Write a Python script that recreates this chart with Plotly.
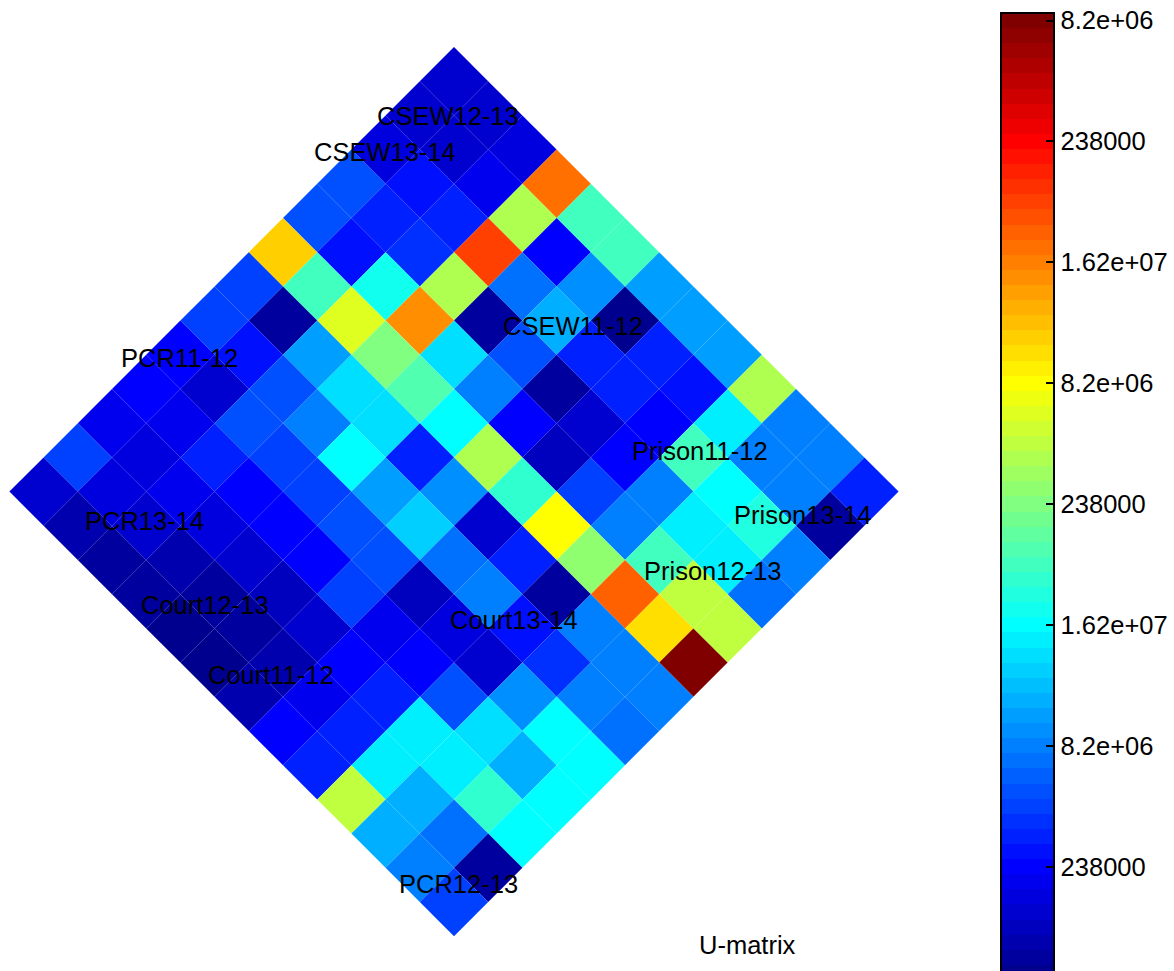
import plotly.graph_objects as go

# ---------------- data (normalised U-matrix distances, 0 = min, 1 = max) -------------
# row j runs down the upper-left edge, column i runs down the upper-right edge
umat_j00 = [0.070, 0.075, 0.092, 0.765, 0.425, 0.425, 0.266, 0.266, 0.266, 0.540, 0.235, 0.235, 0.141]
umat_j01 = [0.070, 0.075, 0.095, 0.540, 0.125, 0.258, 0.000, 0.141, 0.133, 0.345, 0.235, 0.235, 0.030]
umat_j02 = [0.090, 0.140, 0.148, 0.797, 0.227, 0.292, 0.141, 0.141, 0.120, 0.4375, 0.375, 0.406, 0.235]
umat_j03 = [0.195, 0.156, 0.164, 0.540, 0.016, 0.203, 0.030, 0.075, 0.120, 0.250, 0.345, 0.345, 0.227]
umat_j04 = [0.195, 0.133, 0.390, 0.720, 0.341, 0.235, 0.120, 0.047, 0.1875, 0.235, 0.4375, 0.547, 0.547]
umat_j05 = [0.658, 0.4375, 0.590, 0.485, 0.453, 0.375, 0.540, 0.410, 0.625, 0.508, 0.777, 0.645, 1.000]
umat_j06 = [0.172, 0.016, 0.266, 0.337, 0.330, 0.148, 0.258, 0.063, 0.141, 0.016, 0.235, 0.250, 0.250]
umat_j07 = [0.172, 0.140, 0.203, 0.235, 0.368, 0.266, 0.325, 0.219, 0.235, 0.133, 0.164, 0.250, 0.219]
umat_j08 = [0.120, 0.075, 0.203, 0.180, 0.1875, 0.195, 0.195, 0.058, 0.088, 0.063, 0.258, 0.360, 0.360]
umat_j09 = [0.125, 0.095, 0.141, 0.125, 0.125, 0.125, 0.1875, 0.100, 0.125, 0.203, 0.337, 0.282, 0.360]
umat_j10 = [0.108, 0.092, 0.095, 0.085, 0.063, 0.055, 0.075, 0.125, 0.141, 0.345, 0.345, 0.410, 0.360]
umat_j11 = [0.1875, 0.088, 0.075, 0.040, 0.030, 0.030, 0.040, 0.100, 0.141, 0.345, 0.282, 0.219, 0.030]
umat_j12 = [0.075, 0.040, 0.030, 0.016, 0.010, 0.000, 0.040, 0.125, 0.141, 0.5625, 0.282, 0.250, 0.172]
umat_rows = [umat_j00, umat_j01, umat_j02, umat_j03, umat_j04, umat_j05, umat_j06,
             umat_j07, umat_j08, umat_j09, umat_j10, umat_j11, umat_j12]

# sample labels and their (fractional) grid positions on the map
label_names = ["CSEW12-13", "CSEW13-14", "CSEW11-12", "PCR11-12", "Prison11-12", "PCR13-14",
               "Prison13-14", "Prison12-13", "Court12-13", "Court13-14", "Court11-12", "PCR12-13"]
label_i = [0.42, 0.03, 5.32, 0.03, 9.00, 1.91, 11.44, 10.95, 4.02, 8.75, 6.00, 11.80]
label_j = [0.60, 2.05, 1.84, 8.07, 1.81, 10.95, 1.24, 3.37, 11.30, 7.00, 11.35, 11.68]

# colour bar tick labels (top to bottom as printed)
cbar_ticktext = ["8.2e+06", "238000", "1.62e+07", "8.2e+06", "238000", "1.62e+07", "8.2e+06", "238000"]
cbar_tick_bands = [64, 56, 48, 40, 32, 24, 16, 8]

# ---------------- colour map: 64-level jet ----------------
def jet(t):
    def c(v):
        return max(0.0, min(1.0, v))
    r = c(1.5 - abs(4 * t - 3))
    g = c(1.5 - abs(4 * t - 2))
    b = c(1.5 - abs(4 * t - 1))
    return "rgb(%d,%d,%d)" % (round(r * 255), round(g * 255), round(b * 255))

NB = 64
jet64 = []
for k in range(1, NB + 1):
    col = jet(k / NB)
    jet64.append([(k - 1) / NB, col])
    jet64.append([k / NB, col])


def scale_colour(v):
    """Colour of value v in the stepped colour scale (same scale as the colour bar)."""
    v = min(max(v, 0.0), 1.0)
    for p in range(0, len(jet64), 2):
        lo, col = jet64[p]
        hi = jet64[p + 1][0]
        if lo <= v <= hi:
            return col
    return jet64[-1][1]

# ---------------- layout geometry ----------------
FIG_W, FIG_H = 1174, 971
UNIT = 34.2                 # pixels per half-diagonal of a cell
CX, CY = 454.0, 81.2        # pixel centre of the top cell
PL, PR, PT, PB = 4, 910, 10, 961
xmin = (PL - CX) / UNIT
xmax = (PR - CX) / UNIT
ymax = (CY - PT) / UNIT
ymin = (CY - PB) / UNIT
FONT = "Liberation Sans, Arial, Helvetica, sans-serif"
FSIZE = 25.5

fig = go.Figure()

for j, row in enumerate(umat_rows):
    for i, v in enumerate(row):
        X = i - j
        Y = -(i + j)
        colr = scale_colour(v)
        fig.add_trace(go.Scatter(
            x=[X, X + 1, X, X - 1, X],
            y=[Y + 1, Y, Y - 1, Y, Y + 1],
            mode="lines", fill="toself", fillcolor=colr,
            line=dict(width=0, color=colr),
            hoverinfo="skip", showlegend=False))

# colour bar carrier
CB_LEFT, CB_TOP, CB_LEN, CB_THICK = 1001, 13, 967, 53
tickvals = [(k - 0.5) / NB for k in cbar_tick_bands]
fig.add_trace(go.Scatter(
    x=[0], y=[0], mode="markers",
    marker=dict(size=0.1, opacity=0, color=[0.5], cmin=0, cmax=1, colorscale=jet64,
                showscale=True,
                colorbar=dict(
                    x=(CB_LEFT - PL) / (PR - PL), xanchor="left", xpad=0,
                    y=(PB - CB_TOP) / (PB - PT), yanchor="top", ypad=0,
                    lenmode="pixels", len=CB_LEN,
                    thicknessmode="pixels", thickness=CB_THICK,
                    outlinewidth=2, outlinecolor="black",
                    tickmode="array", tickvals=tickvals, ticktext=cbar_ticktext,
                    ticks="inside", ticklen=9, tickwidth=2, tickcolor="black",
                    tickfont=dict(family=FONT, size=FSIZE, color="black"))),
    hoverinfo="skip", showlegend=False))

# left-side colour bar ticks
shapes = []
for t in tickvals:
    py = CB_TOP + (1 - t) * CB_LEN
    yp = (PB - py) / (PB - PT)
    shapes.append(dict(type="line", xref="paper", yref="paper",
                       x0=(CB_LEFT - PL) / (PR - PL), x1=(CB_LEFT + 10 - PL) / (PR - PL),
                       y0=yp, y1=yp, line=dict(color="black", width=2)))

annotations = []
for name, li, lj in zip(label_names, label_i, label_j):
    annotations.append(dict(x=li - lj, y=-(li + lj), xref="x", yref="y", text=name,
                            showarrow=False, xanchor="center", yanchor="middle",
                            font=dict(family=FONT, size=FSIZE, color="black")))
annotations.append(dict(x=(747 - PL) / (PR - PL), y=(PB - 945) / (PB - PT),
                        xref="paper", yref="paper", text="U-matrix", showarrow=False,
                        xanchor="center", yanchor="middle",
                        font=dict(family=FONT, size=FSIZE, color="black")))

fig.update_layout(
    width=FIG_W, height=FIG_H,
    margin=dict(l=PL, r=FIG_W - PR, t=PT, b=FIG_H - PB, pad=0, autoexpand=False),
    paper_bgcolor="white", plot_bgcolor="white",
    xaxis=dict(range=[xmin, xmax], visible=False, fixedrange=True),
    yaxis=dict(range=[ymin, ymax], visible=False, fixedrange=True),
    shapes=shapes, annotations=annotations,
    showlegend=False,
)

fig.write_html("out.html", config={"displayModeBar": False},
               post_script="document.body.style.margin='0';document.body.style.overflow='hidden';")
